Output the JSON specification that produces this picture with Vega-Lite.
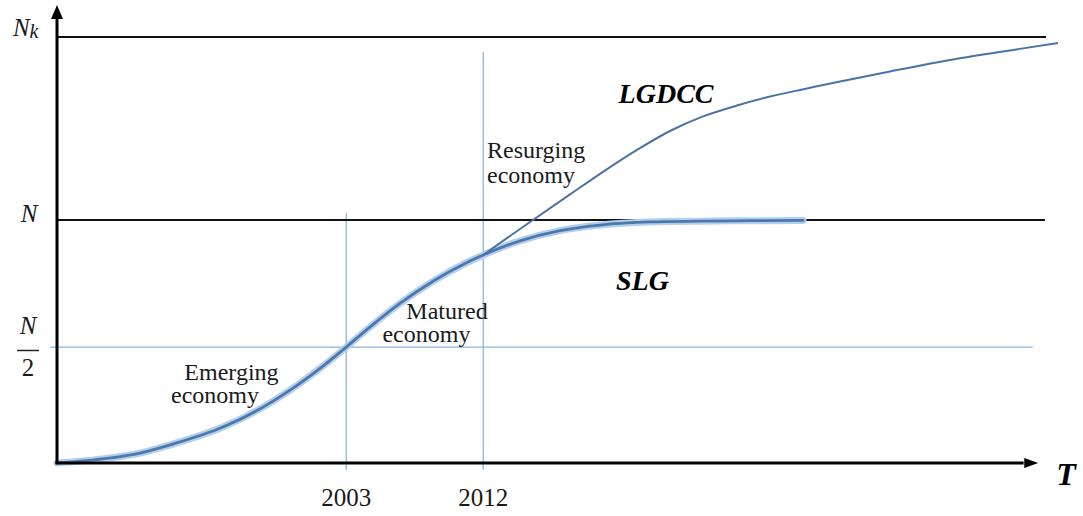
{
  "$schema": "https://vega.github.io/schema/vega-lite/v6.json",
  "width": 1083,
  "height": 516,
  "padding": 0,
  "autosize": {"type": "fit", "contains": "padding"},
  "background": "white",
  "config": {"view": {"stroke": null}},
  "datasets": {
    "segs": [
      {"kind": "axis", "x1": 1984, "x2": 1984, "y1": -0.004, "y2": 1.85},
      {"kind": "axis", "x1": 1983.9, "x2": 2047.5, "y1": 0, "y2": 0},
      {"kind": "black", "x1": 1984, "x2": 2048.97, "y1": 1.753, "y2": 1.753},
      {"kind": "black", "x1": 1984, "x2": 2048.9, "y1": 1.0, "y2": 1.0},
      {"kind": "blue", "x1": 1983.54, "x2": 2048.1, "y1": 0.477, "y2": 0.477},
      {"kind": "blue", "x1": 2003, "x2": 2003, "y1": -0.029, "y2": 1.029},
      {"kind": "blue", "x1": 2012, "x2": 2012, "y1": -0.029, "y2": 1.691},
      {"kind": "frac", "x1": 1981.37, "x2": 1982.82, "y1": 0.463, "y2": 0.463}
    ],
    "slg": [
      {"t": 1984.0, "v": 0.0},
      {"t": 1987.28, "v": 0.019},
      {"t": 1989.45, "v": 0.041},
      {"t": 1991.62, "v": 0.078},
      {"t": 1994.9, "v": 0.148},
      {"t": 1997.14, "v": 0.216},
      {"t": 1999.31, "v": 0.3},
      {"t": 2001.47, "v": 0.399},
      {"t": 2003.0, "v": 0.477},
      {"t": 2004.37, "v": 0.55},
      {"t": 2006.53, "v": 0.657},
      {"t": 2008.7, "v": 0.748},
      {"t": 2010.93, "v": 0.825},
      {"t": 2012.0, "v": 0.856},
      {"t": 2014.42, "v": 0.914},
      {"t": 2017.04, "v": 0.956},
      {"t": 2019.67, "v": 0.979},
      {"t": 2022.96, "v": 0.992},
      {"t": 2026.24, "v": 0.995},
      {"t": 2029.53, "v": 0.997},
      {"t": 2033.01, "v": 0.998}
    ],
    "lgdcc": [
      {"t": 2012.0, "v": 0.856},
      {"t": 2013.3, "v": 0.914},
      {"t": 2015.27, "v": 1.0},
      {"t": 2017.7, "v": 1.105},
      {"t": 2019.87, "v": 1.198},
      {"t": 2022.1, "v": 1.288},
      {"t": 2024.27, "v": 1.366},
      {"t": 2026.44, "v": 1.426},
      {"t": 2028.67, "v": 1.471},
      {"t": 2030.84, "v": 1.508},
      {"t": 2033.27, "v": 1.541},
      {"t": 2035.44, "v": 1.57},
      {"t": 2038.72, "v": 1.611},
      {"t": 2043.12, "v": 1.663},
      {"t": 2047.46, "v": 1.706},
      {"t": 2049.76, "v": 1.728}
    ],
    "labels": [
      {"kind": "phase", "label": "Emerging", "t": 1995.46, "v": 0.342},
      {"kind": "phase", "label": "economy", "t": 1994.38, "v": 0.247},
      {"kind": "phase", "label": "Matured", "t": 2009.62, "v": 0.593},
      {"kind": "phase", "label": "economy", "t": 2008.27, "v": 0.498},
      {"kind": "phaseLeft", "label": "Resurging", "t": 2012.25, "v": 1.255},
      {"kind": "phaseLeft", "label": "economy", "t": 2012.25, "v": 1.152},
      {"kind": "curve", "label": "LGDCC", "t": 2024.01, "v": 1.481},
      {"kind": "curve", "label": "SLG", "t": 2022.46, "v": 0.712},
      {"kind": "axisT", "label": "T", "t": 2050.29, "v": -0.091},
      {"kind": "year", "label": "2003", "t": 2003, "v": -0.175},
      {"kind": "year", "label": "2012", "t": 2012, "v": -0.175},
      {"kind": "math", "label": "N", "t": 1981.65, "v": 1.757},
      {"kind": "sub", "label": "k", "t": 1982.2, "v": 1.749},
      {"kind": "math", "label": "N", "t": 1982.16, "v": 0.992},
      {"kind": "math", "label": "N", "t": 1982.1, "v": 0.531},
      {"kind": "digit", "label": "2", "t": 1982.1, "v": 0.358}
    ],
    "arrows": [
      {"dir": "up", "t": 1984, "v": 1.856},
      {"dir": "right", "t": 2048.0, "v": 0}
    ]
  },
  "encoding": {
    "x": {"type": "quantitative", "scale": {"domain": [1980.255, 2051.4], "nice": false, "zero": false}, "axis": null},
    "y": {"type": "quantitative", "scale": {"domain": [-0.218, 1.905], "nice": false, "zero": false}, "axis": null}
  },
  "layer": [
    {
      "data": {"name": "segs"},
      "transform": [{"filter": "datum.kind === 'blue'"}],
      "mark": {"type": "rule", "color": "#8db5e0", "strokeWidth": 1.3},
      "encoding": {"x": {"field": "x1"}, "x2": {"field": "x2"}, "y": {"field": "y1"}, "y2": {"field": "y2"}}
    },
    {
      "data": {"name": "segs"},
      "transform": [{"filter": "datum.kind === 'black'"}],
      "mark": {"type": "rule", "color": "#111111", "strokeWidth": 2},
      "encoding": {"x": {"field": "x1"}, "x2": {"field": "x2"}, "y": {"field": "y1"}, "y2": {"field": "y2"}}
    },
    {
      "data": {"name": "segs"},
      "transform": [{"filter": "datum.kind === 'frac'"}],
      "mark": {"type": "rule", "color": "#222222", "strokeWidth": 1.5},
      "encoding": {"x": {"field": "x1"}, "x2": {"field": "x2"}, "y": {"field": "y1"}, "y2": {"field": "y2"}}
    },
    {
      "data": {"name": "slg"},
      "mark": {"type": "line", "color": "#b3cfee", "strokeWidth": 7, "interpolate": "monotone", "strokeCap": "round"},
      "encoding": {"x": {"field": "t"}, "y": {"field": "v"}, "order": {"field": "t"}}
    },
    {
      "data": {"name": "slg"},
      "mark": {"type": "line", "color": "#4e78ab", "strokeWidth": 2.8, "interpolate": "monotone", "strokeCap": "round"},
      "encoding": {"x": {"field": "t"}, "y": {"field": "v"}, "order": {"field": "t"}}
    },
    {
      "data": {"name": "lgdcc"},
      "mark": {"type": "line", "color": "#4a73a5", "strokeWidth": 2, "interpolate": "monotone"},
      "encoding": {"x": {"field": "t"}, "y": {"field": "v"}, "order": {"field": "t"}}
    },
    {
      "data": {"name": "segs"},
      "transform": [{"filter": "datum.kind === 'axis'"}],
      "mark": {"type": "rule", "color": "#000000", "strokeWidth": 3},
      "encoding": {"x": {"field": "x1"}, "x2": {"field": "x2"}, "y": {"field": "y1"}, "y2": {"field": "y2"}}
    },
    {
      "data": {"name": "arrows"},
      "transform": [{"filter": "datum.dir === 'up'"}],
      "mark": {"type": "point", "shape": "M0,-1L0.85,1L-0.85,1Z", "filled": true, "color": "#000000", "opacity": 1, "size": 196},
      "encoding": {"x": {"field": "t"}, "y": {"field": "v"}}
    },
    {
      "data": {"name": "arrows"},
      "transform": [{"filter": "datum.dir === 'right'"}],
      "mark": {"type": "point", "shape": "M1,0L-1,0.7L-1,-0.7Z", "filled": true, "color": "#000000", "opacity": 1, "size": 196},
      "encoding": {"x": {"field": "t"}, "y": {"field": "v"}}
    },
    {
      "data": {"name": "labels"},
      "transform": [{"filter": "datum.kind === 'phase'"}],
      "mark": {"type": "text", "font": "Liberation Serif", "fontSize": 24, "align": "center", "baseline": "alphabetic", "color": "#1a1a1a"},
      "encoding": {"x": {"field": "t"}, "y": {"field": "v"}, "text": {"field": "label"}}
    },
    {
      "data": {"name": "labels"},
      "transform": [{"filter": "datum.kind === 'phaseLeft'"}],
      "mark": {"type": "text", "font": "Liberation Serif", "fontSize": 24, "align": "left", "baseline": "alphabetic", "color": "#1a1a1a"},
      "encoding": {"x": {"field": "t"}, "y": {"field": "v"}, "text": {"field": "label"}}
    },
    {
      "data": {"name": "labels"},
      "transform": [{"filter": "datum.kind === 'year'"}],
      "mark": {"type": "text", "font": "Liberation Serif", "fontSize": 25, "align": "center", "baseline": "alphabetic", "color": "#1a1a1a"},
      "encoding": {"x": {"field": "t"}, "y": {"field": "v"}, "text": {"field": "label"}}
    },
    {
      "data": {"name": "labels"},
      "transform": [{"filter": "datum.kind === 'curve'"}],
      "mark": {"type": "text", "font": "Liberation Serif", "fontSize": 28, "fontStyle": "italic", "fontWeight": "bold", "align": "center", "baseline": "alphabetic", "color": "#000000"},
      "encoding": {"x": {"field": "t"}, "y": {"field": "v"}, "text": {"field": "label"}}
    },
    {
      "data": {"name": "labels"},
      "transform": [{"filter": "datum.kind === 'axisT'"}],
      "mark": {"type": "text", "font": "Liberation Serif", "fontSize": 32, "fontStyle": "italic", "fontWeight": "bold", "align": "center", "baseline": "alphabetic", "color": "#000000"},
      "encoding": {"x": {"field": "t"}, "y": {"field": "v"}, "text": {"field": "label"}}
    },
    {
      "data": {"name": "labels"},
      "transform": [{"filter": "datum.kind === 'math'"}],
      "mark": {"type": "text", "font": "Liberation Serif", "fontSize": 25, "fontStyle": "italic", "align": "center", "baseline": "alphabetic", "color": "#1a1a1a"},
      "encoding": {"x": {"field": "t"}, "y": {"field": "v"}, "text": {"field": "label"}}
    },
    {
      "data": {"name": "labels"},
      "transform": [{"filter": "datum.kind === 'sub'"}],
      "mark": {"type": "text", "font": "Liberation Serif", "fontSize": 20, "fontStyle": "italic", "align": "left", "baseline": "alphabetic", "color": "#1a1a1a"},
      "encoding": {"x": {"field": "t"}, "y": {"field": "v"}, "text": {"field": "label"}}
    },
    {
      "data": {"name": "labels"},
      "transform": [{"filter": "datum.kind === 'digit'"}],
      "mark": {"type": "text", "font": "Liberation Serif", "fontSize": 25, "align": "center", "baseline": "alphabetic", "color": "#1a1a1a"},
      "encoding": {"x": {"field": "t"}, "y": {"field": "v"}, "text": {"field": "label"}}
    }
  ]
}
